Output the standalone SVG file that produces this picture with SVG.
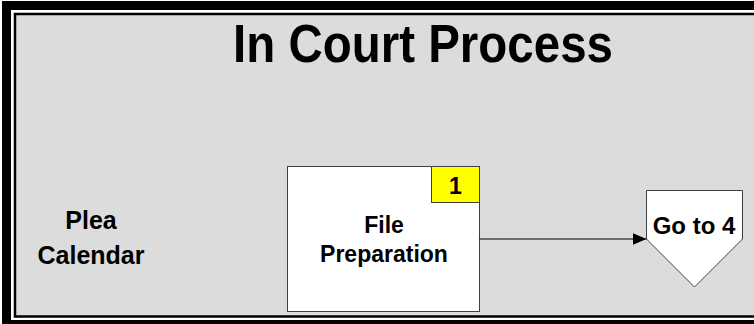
<svg xmlns="http://www.w3.org/2000/svg" width="754" height="324" viewBox="0 0 754 324">
  <defs>
    <style>
      .lbl { font-family: "Liberation Sans", Arial, sans-serif; font-weight: bold; fill: #000; text-anchor: middle; }
      .box { fill: #fff; stroke: #404040; stroke-width: 1; }
      .edge { stroke: #000; stroke-width: 1; fill: none; }
    </style>
    <marker id="arrow" markerWidth="14" markerHeight="12" refX="14" refY="6" orient="auto" markerUnits="userSpaceOnUse">
      <path d="M0,0 L14,6 L0,12 Z" fill="#000"/>
    </marker>
  </defs>

  <!-- page background and double frame -->
  <rect x="0" y="0" width="754" height="324" fill="#fff"/>
  <rect x="6.5" y="5.5" width="760" height="319" fill="none" stroke="#000" stroke-width="9"/>
  <rect x="15" y="14" width="760" height="302.5" fill="#dcdcdc" stroke="#000" stroke-width="2.5"/>

  <!-- title -->
  <text class="lbl" x="423" y="62" font-size="53" textLength="380" lengthAdjust="spacingAndGlyphs">In Court Process</text>

  <!-- lane label -->
  <g id="plea-calendar">
    <text class="lbl" x="91" y="229" font-size="25">Plea</text>
    <text class="lbl" x="91" y="264" font-size="25">Calendar</text>
  </g>

  <!-- process step 1 -->
  <g id="file-preparation">
    <rect class="box" x="287.5" y="166.5" width="192" height="145"/>
    <rect x="431.5" y="166.5" width="48" height="36" fill="#ffff00" stroke="#404040" stroke-width="1"/>
    <text class="lbl" x="455.5" y="194" font-size="23">1</text>
    <text class="lbl" x="384" y="233" font-size="23">File</text>
    <text class="lbl" x="384" y="262" font-size="23">Preparation</text>
  </g>

  <!-- off-page connector -->
  <g id="go-to-4">
    <path class="box" d="M646.5,190.5 L742.5,190.5 L742.5,239 L694.5,287 L646.5,239 Z"/>
    <text class="lbl" x="694" y="234" font-size="24">Go to 4</text>
  </g>

  <!-- connectors -->
  <g id="connectors">
    <line class="edge" x1="479.5" y1="239" x2="646.5" y2="239" marker-end="url(#arrow)"/>
  </g>
</svg>
